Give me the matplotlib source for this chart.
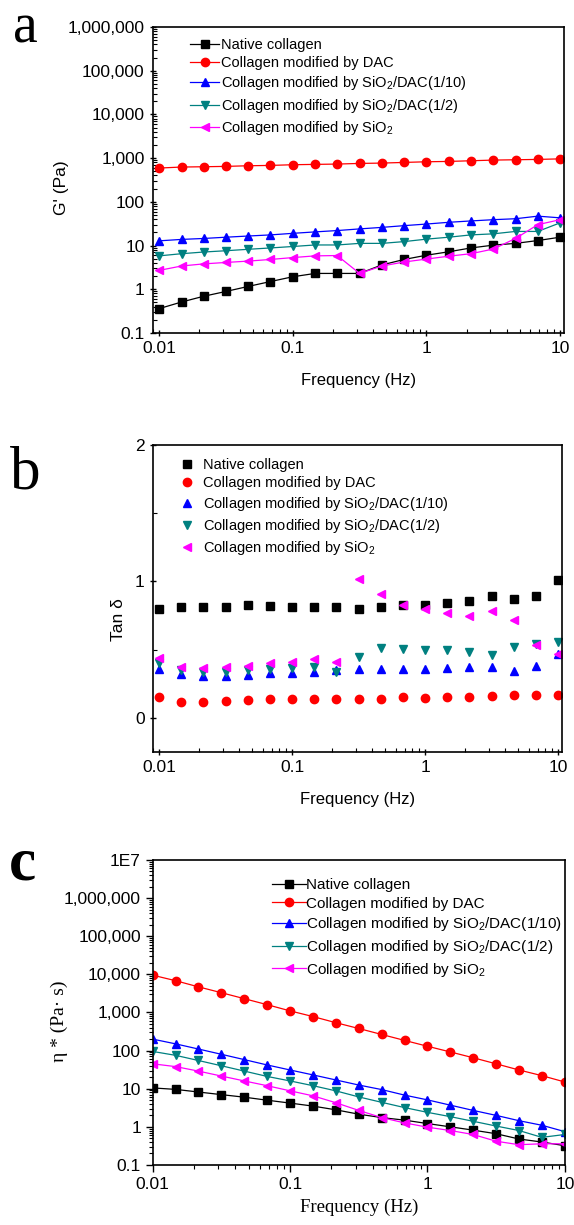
import numpy as np
import matplotlib
matplotlib.use('Agg')
import matplotlib.pyplot as plt
from matplotlib.ticker import FixedLocator, NullFormatter, LogLocator, MultipleLocator

plt.rcParams['font.family'] = ['Liberation Sans', 'DejaVu Sans']
plt.rcParams['mathtext.default'] = 'regular'

# frequency points (Hz)
freq = [0.01, 0.0147, 0.0215, 0.0316, 0.0464, 0.0681, 0.1, 0.147, 0.215, 0.316,
        0.464, 0.681, 1.0, 1.47, 2.15, 3.16, 4.64, 6.81, 10.0]

labels = ['Native collagen', 'Collagen modified by DAC',
          'Collagen modified by SiO$_2$/DAC(1/10)',
          'Collagen modified by SiO$_2$/DAC(1/2)',
          'Collagen modified by SiO$_2$']
colors = ['black', 'red', 'blue', '#008080', 'magenta']
markers = ['s', 'o', '^', 'v', '<']

# panel a: storage modulus G' (Pa)
g_native = [0.36, 0.51, 0.69, 0.89, 1.16, 1.5, 1.93, 2.3, 2.3, 2.3, 3.6, 4.8, 6.0, 7.2, 8.8, 10.2, 11.2, 13.0, 15.5]
g_dac = [592, 624, 634, 646, 668, 680, 705, 718, 730, 755, 769, 796, 824, 839, 869, 900, 916, 933, 960]
g_1_10 = [12.8, 13.8, 14.5, 15.5, 16.5, 17.5, 19, 20.5, 22, 24, 26, 28.5, 31, 34, 36.5, 39, 41, 47, 43]
g_1_2 = [5.8, 6.5, 7.1, 7.6, 8.2, 8.8, 9.5, 10.3, 10.3, 11.2, 11.2, 12.3, 14, 15.5, 17.5, 18.5, 21, 21, 33]
g_sio2 = [2.7, 3.4, 3.8, 4.1, 4.4, 4.8, 5.3, 5.8, 5.9, 2.3, 3.4, 4.2, 4.9, 5.7, 6.5, 8.3, 14.5, 30, 39]

# panel b: tan delta
t_native = [0.80, 0.81, 0.81, 0.81, 0.825, 0.82, 0.81, 0.81, 0.81, 0.80, 0.81, 0.83, 0.83, 0.845, 0.855, 0.895, 0.875, 0.89, 1.01]
t_dac = [0.15, 0.12, 0.12, 0.125, 0.13, 0.135, 0.135, 0.14, 0.14, 0.14, 0.14, 0.15, 0.145, 0.155, 0.155, 0.163, 0.17, 0.17, 0.17]
t_1_10 = [0.36, 0.32, 0.31, 0.31, 0.315, 0.33, 0.33, 0.335, 0.35, 0.36, 0.36, 0.36, 0.36, 0.365, 0.375, 0.375, 0.345, 0.377, 0.47]
t_1_2 = [0.40, 0.35, 0.34, 0.34, 0.35, 0.36, 0.365, 0.37, 0.34, 0.45, 0.51, 0.505, 0.50, 0.495, 0.48, 0.46, 0.52, 0.54, 0.56]
t_sio2 = [0.44, 0.37, 0.365, 0.37, 0.38, 0.40, 0.41, 0.43, 0.41, 1.02, 0.905, 0.83, 0.80, 0.77, 0.75, 0.78, 0.72, 0.535, 0.47]

# panel c: complex viscosity (Pa s)
v_native = [10.5, 9.6, 8.2, 7.0, 6.0, 5.0, 4.2, 3.5, 2.8, 2.15, 1.75, 1.5, 1.22, 1.0, 0.82, 0.66, 0.48, 0.4, 0.32]
v_dac = [9500, 6800, 4700, 3300, 2300, 1600, 1100, 780, 540, 380, 265, 185, 130, 92, 65, 45, 31, 22, 15]
v_1_10 = [200, 150, 110, 80, 58, 42, 31, 23, 17, 12.5, 9.5, 6.8, 5.1, 3.7, 2.7, 2.0, 1.45, 1.1, 0.75]
v_1_2 = [95, 75, 55, 40, 29, 21, 16, 12, 8.8, 6.1, 4.4, 3.2, 2.4, 1.85, 1.4, 1.05, 0.8, 0.53, 0.63]
v_sio2 = [45, 38, 29, 21.5, 16, 12, 8.8, 6.5, 4.3, 2.7, 1.75, 1.27, 0.98, 0.8, 0.63, 0.42, 0.34, 0.36, 0.36]

fig = plt.figure(figsize=(5.74, 12.25), dpi=100)
ax_a = fig.add_axes([0.2666, 0.7282, 0.716, 0.2498])
ax_b = fig.add_axes([0.2666, 0.3861, 0.7126, 0.2506])
ax_c = fig.add_axes([0.2660, 0.0490, 0.7180, 0.2490])

xticks = [0.01, 0.1, 1, 10]
xticklabels = ['0.01', '0.1', '1', '10']


def style_log_x(ax, direction_major, direction_minor):
    ax.set_xscale('log')
    ax.xaxis.set_major_locator(FixedLocator(xticks))
    ax.set_xticklabels(xticklabels)
    ax.xaxis.set_minor_locator(LogLocator(base=10, subs=np.arange(2, 10)))
    ax.xaxis.set_minor_formatter(NullFormatter())
    ax.tick_params(which='major', direction=direction_major, length=5, width=1, labelsize=12.5)
    ax.tick_params(which='minor', direction=direction_minor, length=3, width=0.8)
    for s in ax.spines.values():
        s.set_linewidth(1.2)


# ---------- panel a ----------
gdata = [g_native, g_dac, g_1_10, g_1_2, g_sio2]
for y, c, m, lab in zip(gdata, colors, markers, labels):
    ax_a.plot(freq, y, color=c, marker=m, markersize=6, linewidth=0.9, label=lab)
ax_a.set_yscale('log')
ax_a.set_xlim(0.009, 10.7)
ax_a.set_ylim(0.1, 1e6)
style_log_x(ax_a, 'inout', 'in')
ax_a.yaxis.set_major_locator(FixedLocator([0.1, 1, 10, 100, 1e3, 1e4, 1e5, 1e6]))
ax_a.set_yticklabels(['0.1', '1', '10', '100', '1,000', '10,000', '100,000', '1,000,000'])
ax_a.yaxis.set_minor_locator(LogLocator(base=10, subs=np.arange(2, 10)))
ax_a.yaxis.set_minor_formatter(NullFormatter())
ax_a.set_xlabel('Frequency (Hz)', fontsize=12, labelpad=12)
ax_a.set_ylabel("G' (Pa)", fontsize=12.5)
ax_a.yaxis.set_label_coords(-0.205, 0.474)
ax_a.legend(loc='upper left', bbox_to_anchor=(0.09, 0.965), frameon=False, fontsize=10.5,
            borderpad=0, borderaxespad=0, handlelength=2.0, handletextpad=0.15, labelspacing=0.3)
fig.text(0.022, 0.965, 'a', fontsize=40, family='Liberation Serif', va='baseline')

# ---------- panel b ----------
tdata = [t_native, t_dac, t_1_10, t_1_2, t_sio2]
for y, c, m, lab in zip(tdata, colors, markers, labels):
    ax_b.plot(freq, y, color=c, marker=m, markersize=6, linestyle='none', label=lab)
ax_b.set_xlim(0.009, 10.7)
ax_b.set_ylim(-0.25, 2)
style_log_x(ax_b, 'inout', 'in')
ax_b.yaxis.set_major_locator(FixedLocator([0, 1, 2]))
ax_b.yaxis.set_minor_locator(MultipleLocator(0.5))
ax_b.set_xlabel('Frequency (Hz)', fontsize=12, labelpad=12)
ax_b.set_ylabel('Tan δ', fontsize=12.5)
ax_b.yaxis.set_label_coords(-0.065, 0.43)
ax_b.legend(loc='upper left', bbox_to_anchor=(0.065, 0.958), frameon=False, fontsize=10.5,
            borderpad=0, borderaxespad=0, handlelength=1.0, handletextpad=0.6, labelspacing=0.3)
fig.text(0.018, 0.601, 'b', fontsize=44, family='Liberation Serif', va='baseline')

# ---------- panel c ----------
vdata = [v_native, v_dac, v_1_10, v_1_2, v_sio2]
for y, c, m, lab in zip(vdata, colors, markers, labels):
    ax_c.plot(freq, y, color=c, marker=m, markersize=6, linewidth=0.9, label=lab)
ax_c.set_yscale('log')
ax_c.set_xlim(0.01, 10)
ax_c.set_ylim(0.1, 1e7)
style_log_x(ax_c, 'out', 'out')
ax_c.yaxis.set_major_locator(FixedLocator([0.1, 1, 10, 100, 1e3, 1e4, 1e5, 1e6, 1e7]))
ax_c.set_yticklabels(['0.1', '1', '10', '100', '1,000', '10,000', '100,000', '1,000,000', '1E7'])
ax_c.yaxis.set_minor_locator(LogLocator(base=10, subs=np.arange(2, 10)))
ax_c.yaxis.set_minor_formatter(NullFormatter())
ax_c.set_xlabel('Frequency (Hz)', fontsize=13.5, family='Liberation Serif')
ax_c.xaxis.set_label_coords(0.5, -0.11)
ax_c.set_ylabel('η * (Pa· s)', fontsize=14, family='Liberation Serif')
ax_c.yaxis.set_label_coords(-0.206, 0.47)
ax_c.legend(loc='upper left', bbox_to_anchor=(0.29, 0.94), frameon=False, fontsize=11,
            borderpad=0, borderaxespad=0, handlelength=2.2, handletextpad=0.0, labelspacing=0.3)
fig.text(0.015, 0.282, 'c', fontsize=44, family='Liberation Serif', weight='bold', va='baseline')

fig.savefig('out.png', dpi=100)
